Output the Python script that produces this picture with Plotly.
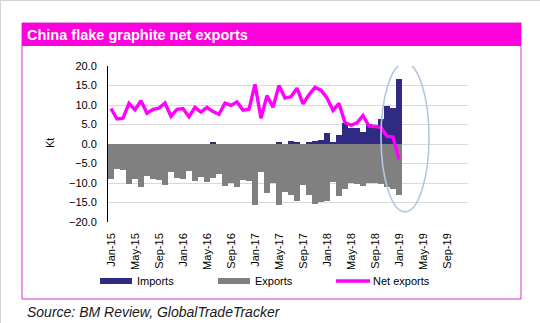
import plotly.graph_objects as go

# Monthly categories Jan-15 .. Dec-19
month_names = ["Jan", "Feb", "Mar", "Apr", "May", "Jun",
               "Jul", "Aug", "Sep", "Oct", "Nov", "Dec"]
months = [f"{m}-{y}" for y in range(15, 20) for m in month_names]

# Monthly trade, kt (Jan-15 .. Jan-19)
imports = [0, 0, 0, 0, 0, 0, 0, 0, 0, 0, 0, 0, 0, 0, 0, 0,
           0, 0.3, 0, 0, 0, 0, 0, 0, 0, 0, 0, 0, 0.3, 0, 0.7, 0.3,
           0, 0.3, 0.8, 1.0, 2.9, 0.3, 2.3, 5.4, 4.2, 4.0, 3.1, 5.2,
           5.0, 6.4, 9.8, 9.2, 16.7]
exports = [-9.1, -6.4, -6.6, -10.2, -8.9, -11.1, -8.2, -8.9, -9.3, -10.4,
           -7.2, -8.8, -9.1, -6.9, -9.4, -8.4, -9.7, -8.8, -7.8, -10.8,
           -10.1, -11.0, -9.2, -9.4, -15.7, -7.1, -12.6, -9.9, -15.7, -12.2,
           -13.1, -14.7, -10.6, -13.2, -15.5, -14.9, -14.6, -9.8, -13.4, -11.6,
           -9.9, -10.3, -10.8, -10.1, -9.9, -10.3, -11.0, -11.6, -13.2]
net_exports = [9.1, 6.4, 6.6, 10.4, 8.8, 11.1, 7.9, 8.9, 9.2, 10.5,
               7.1, 8.9, 9.1, 7.0, 9.4, 8.2, 9.4, 8.3, 7.6, 10.5,
               9.9, 10.8, 8.7, 8.9, 15.3, 6.6, 12.4, 9.4, 15.0, 11.8,
               12.1, 14.3, 10.3, 12.6, 14.5, 13.8, 11.8, 8.6, 10.4, 5.5,
               4.8, 5.4, 7.3, 4.6, 4.5, 4.2, 2.0, 1.8, -4.0]

tick_labels = months[::4]
y_ticks = [20, 15, 10, 5, 0, -5, -10, -15, -20]

C_IMP = "#2F2A82"
C_EXP = "#808080"
C_NET = "#FF00FF"
C_BAR = "#FF00DC"
FONT = "Arial, Liberation Sans, sans-serif"

x_obs = months[:len(exports)]

fig = go.Figure()
fig.add_trace(go.Bar(x=x_obs, y=imports, marker=dict(color=C_IMP, line=dict(width=0)),
                     name="Imports", showlegend=False))
fig.add_trace(go.Bar(x=x_obs, y=exports, marker=dict(color=C_EXP, line=dict(width=0)),
                     name="Exports", showlegend=False))
fig.add_trace(go.Scatter(x=x_obs, y=net_exports, mode="lines",
                         line=dict(color=C_NET, width=3.4), name="Net exports",
                         showlegend=False))

# plot area in pixels
W, H = 540, 323
L, R, T, B = 108, 72, 66, 101
PW, PH = W - L - R, H - T - B


def xp(px):
    return (px - L) / PW


def yp(py):
    return (H - B - py) / PH


shapes = []
# outer frame (top/left hairline)
shapes.append(dict(type="line", xref="paper", yref="paper", x0=xp(0.5), x1=xp(540),
                   y0=yp(0.5), y1=yp(0.5), line=dict(color="#D4D4D4", width=1)))
shapes.append(dict(type="line", xref="paper", yref="paper", x0=xp(0.5), x1=xp(0.5),
                   y0=yp(0), y1=yp(323), line=dict(color="#D4D4D4", width=1)))
# chart box and title band
shapes.append(dict(type="rect", xref="paper", yref="paper", x0=xp(22), x1=xp(521),
                   y0=yp(23), y1=yp(299), line=dict(color="#CC33CC", width=1),
                   fillcolor="rgba(0,0,0,0)", layer="below"))
shapes.append(dict(type="rect", xref="paper", yref="paper", x0=xp(22), x1=xp(521),
                   y0=yp(23), y1=yp(46), line=dict(width=0), fillcolor=C_BAR))
# highlight ellipse around latest months
shapes.append(dict(type="circle", xref="x", yref="y", x0=45.0, x1=53.0,
                   y0=-17.4, y1=20.8, line=dict(color="#B4C6E4", width=1.6)))
# legend keys
shapes.append(dict(type="rect", xref="paper", yref="paper", x0=xp(100), x1=xp(132),
                   y0=yp(284), y1=yp(278), line=dict(width=0), fillcolor=C_IMP))
shapes.append(dict(type="rect", xref="paper", yref="paper", x0=xp(218), x1=xp(250),
                   y0=yp(284), y1=yp(278), line=dict(width=0), fillcolor=C_EXP))
shapes.append(dict(type="line", xref="paper", yref="paper", x0=xp(336), x1=xp(370),
                   y0=yp(281), y1=yp(281), line=dict(color=C_NET, width=3.4)))

annotations = [
    dict(text="China flake graphite net exports", xref="paper", yref="paper",
         x=xp(25), y=yp(35), xanchor="left", yanchor="middle", showarrow=False,
         font=dict(family=FONT, size=14.5, color="white", weight="bold")),
    dict(text="Kt", xref="paper", yref="paper", x=xp(50), y=yp(143),
         xanchor="center", yanchor="middle", textangle=-90, showarrow=False,
         font=dict(family=FONT, size=11, color="black")),
    dict(text="Imports", xref="paper", yref="paper", x=xp(135), y=yp(281),
         xanchor="left", yanchor="middle", showarrow=False,
         font=dict(family=FONT, size=11, color="black")),
    dict(text="Exports", xref="paper", yref="paper", x=xp(253), y=yp(281),
         xanchor="left", yanchor="middle", showarrow=False,
         font=dict(family=FONT, size=11, color="black")),
    dict(text="Net exports", xref="paper", yref="paper", x=xp(371), y=yp(281),
         xanchor="left", yanchor="middle", showarrow=False,
         font=dict(family=FONT, size=11, color="black")),
    dict(text="<i>Source: BM Review, GlobalTradeTracker</i>", xref="paper", yref="paper",
         x=xp(25), y=yp(312), xanchor="left", yanchor="middle", showarrow=False,
         font=dict(family=FONT, size=14, color="#1A1A1A")),
]

fig.update_layout(
    width=W, height=H,
    margin=dict(l=L, r=R, t=T, b=B, pad=0),
    paper_bgcolor="white", plot_bgcolor="white",
    barmode="relative", bargap=0,
    showlegend=False,
    font=dict(family=FONT, size=11, color="black"),
    xaxis=dict(type="category", categoryorder="array", categoryarray=months,
               range=[-0.5, len(months) - 0.5], tickmode="array",
               tickvals=tick_labels, ticktext=tick_labels, tickangle=-90,
               ticks="", showgrid=False, showline=False, zeroline=False,
               ticklabelstandoff=8, tickfont=dict(family=FONT, size=11, color="black")),
    xaxis2=dict(overlaying="x", anchor="free", position=0.5, side="bottom",
                range=[-0.5, len(months) - 0.5], tickmode="array",
                tickvals=[i - 0.5 for i in range(0, len(months) + 1, 4)],
                ticks="inside", ticklen=4, tickcolor="black", tickwidth=1,
                showticklabels=False, showgrid=False, zeroline=False,
                showline=True, linecolor="black", linewidth=1),
    yaxis=dict(range=[-20, 20], tickmode="array", tickvals=y_ticks,
               tickformat=".1f", showgrid=True, gridcolor="#D9D9D9", gridwidth=1,
               zeroline=False, showline=True, linecolor="black", linewidth=1,
               ticks="", ticklabelstandoff=8,
               tickfont=dict(family=FONT, size=11, color="black")),
    shapes=shapes,
    annotations=annotations,
)

fig.write_html("out.html")
